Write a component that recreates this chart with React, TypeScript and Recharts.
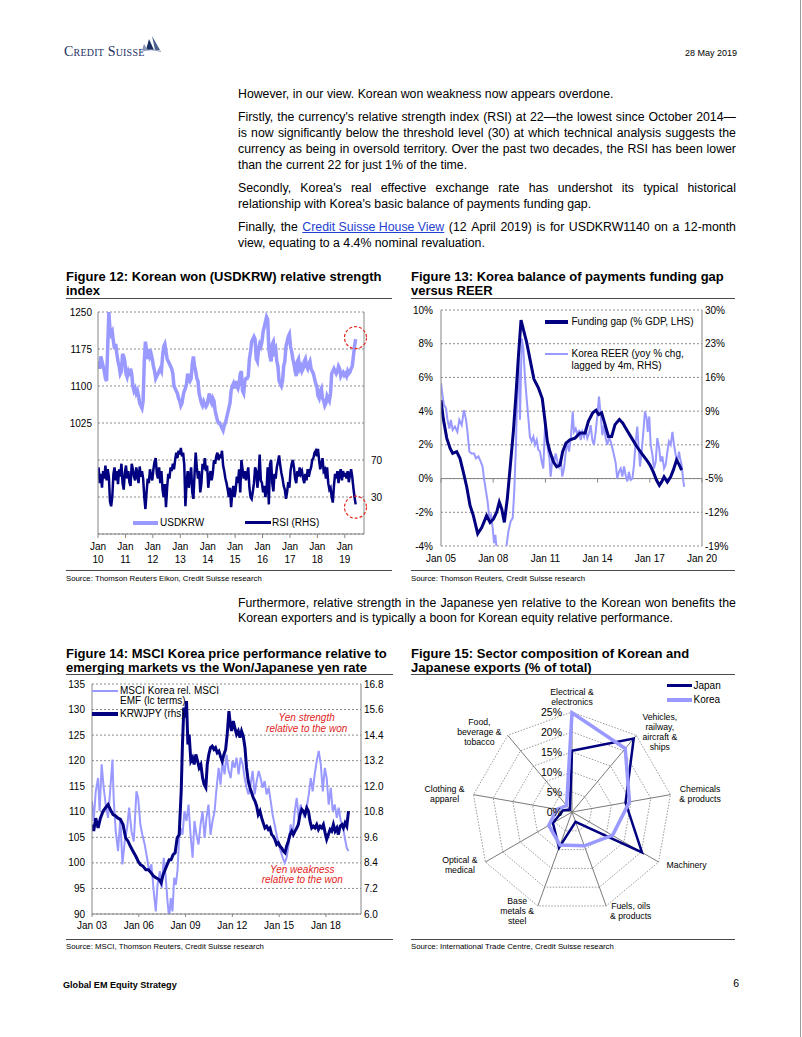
import React from "react";
import {
  LineChart, Line, XAxis, YAxis, CartesianGrid, ReferenceDot, ReferenceLine, Legend,
  RadarChart, Radar, PolarGrid, PolarAngleAxis, PolarRadiusAxis,
} from "recharts";

const FONT = '"Liberation Sans", Arial, Helvetica, sans-serif';
const LIGHT = "#9999ff";
const DARK = "#000080";
const AXIS = "#868686";
const GRID = "#8c8c8c";
const RED = "#e2231a";
const LINK = "#1f3fd0";

// Figure 12: USDKRW and its RSI, two readings a month, Jan 2010 - May 2019
const USDKRW = [
  1150, 1135, 1160, 1150, 1140, 1130, 1115, 1110, 1180, 1250, 1215, 1205, 1210, 1190, 1175, 1185, 1165, 1150, 1140, 1125, 1130, 1165, 1160, 1150,
  1125, 1118, 1128, 1120, 1135, 1125, 1100, 1090, 1095, 1085, 1090, 1080, 1065, 1060, 1055, 1070, 1150, 1190, 1170, 1155, 1175, 1160, 1165, 1155,
  1140, 1130, 1115, 1120, 1125, 1130, 1135, 1130, 1160, 1180, 1185, 1170, 1155, 1150, 1145, 1140, 1135, 1125, 1100, 1095, 1090, 1085, 1075, 1070,
  1060, 1065, 1080, 1090, 1095, 1105, 1125, 1115, 1110, 1115, 1145, 1160, 1140, 1130, 1115, 1110, 1085, 1075, 1065, 1060, 1068, 1062, 1058, 1062,
  1075, 1085, 1070, 1065, 1075, 1070, 1050, 1040, 1030, 1025, 1025, 1020, 1015, 1010, 1020, 1025, 1035, 1045, 1055, 1065, 1090, 1100, 1105, 1095,
  1110, 1100, 1095, 1105, 1125, 1130, 1090, 1085, 1110, 1115, 1115, 1120, 1155, 1170, 1190, 1195, 1200, 1195, 1155, 1150, 1175, 1185, 1180, 1190,
  1210, 1220, 1230, 1240, 1235, 1175, 1160, 1150, 1185, 1190, 1170, 1175, 1150, 1140, 1110, 1105, 1100, 1110, 1140, 1150, 1180, 1190, 1200, 1205,
  1180, 1170, 1155, 1145, 1130, 1120, 1150, 1155, 1135, 1140, 1130, 1135, 1150, 1155, 1140, 1135, 1145, 1150, 1135, 1130, 1125, 1115, 1105, 1100,
  1080, 1075, 1090, 1095, 1075, 1070, 1060, 1065, 1080, 1075, 1070, 1085, 1125, 1130, 1135, 1130, 1125, 1130, 1140, 1135, 1120, 1125, 1128, 1122,
  1125, 1120, 1130, 1125, 1128, 1135, 1140, 1160, 1180, 1195,
];
const RSI = [
  62, 45, 55, 40, 58, 50, 64, 48, 60, 52, 25, 20, 30, 55, 62, 48, 58, 44, 60, 52, 66, 45, 38, 56,
  64, 50, 58, 46, 42, 66, 60, 52, 48, 62, 54, 45, 63, 52, 58, 50, 30, 17, 35, 50, 45, 60, 52, 48,
  60, 68, 72, 55, 50, 62, 45, 58, 38, 30, 44, 19, 40, 55, 50, 62, 58, 66, 60, 70, 78, 72, 80, 76,
  83, 74, 78, 65, 20, 45, 58, 40, 52, 62, 35, 28, 55, 78, 62, 50, 58, 35, 45, 66, 60, 72, 58, 64,
  40, 52, 58, 48, 56, 70, 66, 74, 78, 70, 76, 72, 80, 64, 58, 50, 45, 38, 30, 40, 19, 35, 42, 30,
  38, 52, 45, 60, 35, 70, 60, 50, 58, 48, 55, 62, 40, 30, 28, 36, 45, 62, 58, 40, 52, 76, 48, 45,
  35, 42, 30, 38, 62, 22, 65, 70, 45, 36, 55, 50, 62, 68, 75, 64, 56, 50, 42, 38, 28, 35, 46, 40,
  58, 66, 70, 62, 50, 45, 58, 52, 62, 55, 58, 50, 45, 55, 48, 60, 52, 58, 62, 70, 72, 78, 80, 74,
  82, 70, 60, 66, 72, 58, 60, 50, 62, 45, 38, 40, 30, 24, 42, 55, 50, 58, 45, 56, 60, 48, 58, 52,
  56, 50, 58, 46, 54, 60, 52, 40, 30, 22,
];
const FIG12_YEARS = [2010, 2011, 2012, 2013, 2014, 2015, 2016, 2017, 2018, 2019];
const FIG12_LEFT_TICKS = [800, 875, 950, 1025, 1100, 1175, 1250];
const FIG12_RIGHT_TICKS = [-10, 30, 70, 110, 150, 190, 230];

// Figure 13: funding gap (% GDP) and REER (yoy %)
const GAP_T = [
  2005.0, 2005.13, 2005.33, 2005.52, 2005.67, 2005.9, 2006.09, 2006.28, 2006.48, 2006.67, 2006.86, 2007.11,
  2007.34, 2007.62, 2007.82, 2008.01, 2008.2, 2008.35, 2008.49, 2008.64, 2008.81, 2008.97, 2009.16, 2009.31,
  2009.44, 2009.6, 2009.77, 2009.92, 2010.11, 2010.34, 2010.59, 2010.82, 2010.98, 2011.11, 2011.26, 2011.46,
  2011.65, 2011.84, 2011.99, 2012.18, 2012.41, 2012.7, 2012.99, 2013.28, 2013.47, 2013.72, 2013.91, 2014.06,
  2014.23, 2014.43, 2014.62, 2014.81, 2015.0, 2015.25, 2015.44, 2015.67, 2015.96, 2016.25, 2016.53, 2016.82,
  2017.01, 2017.2, 2017.39, 2017.55, 2017.68, 2017.82, 2018.01, 2018.2, 2018.35, 2018.54, 2018.7, 2018.83,
];
const GAP_V = [
  4.65, 3.56, 2.4, 1.8, 1.5, 1.6, 1.2, 0.4, -0.5, -1.6, -2.2, -3.27,
  -2.9, -2.2, -2.6, -2.4, -2.0, -1.4, -1.8, -2.6, -1.2, 0.6, 2.8, 5.0,
  7.1, 9.4, 8.7, 8.1, 7.1, 5.9, 5.4, 4.75, 3.4, 2.2, 1.6, 1.0,
  0.7, 0.8, 1.6, 2.1, 2.3, 2.4, 2.7, 2.7, 3.4, 3.9, 4.05, 3.8,
  3.9, 3.2, 2.5, 2.5, 3.2, 3.5, 3.3, 2.9, 2.4, 1.9, 1.5, 1.1,
  0.8, 0.4, -0.1, -0.4, -0.2, 0.1, -0.2, 0.1, 0.5, 1.1, 0.8, 0.5,
];
const REER_T = [
  2005.0, 2005.08, 2005.17, 2005.29, 2005.36, 2005.48, 2005.57, 2005.67, 2005.8, 2005.94,
  2006.05, 2006.19, 2006.32, 2006.44, 2006.51, 2006.63, 2006.76, 2006.9, 2007.01, 2007.15,
  2007.28, 2007.39, 2007.47, 2007.59, 2007.68, 2007.78, 2007.87, 2007.97, 2008.05, 2008.12,
  2008.24, 2008.39, 2008.58, 2008.77, 2008.87, 2009.0, 2009.12, 2009.21, 2009.31, 2009.39,
  2009.46, 2009.54, 2009.64, 2009.73, 2009.83, 2009.92, 2010.02, 2010.11, 2010.21, 2010.31,
  2010.4, 2010.5, 2010.59, 2010.69, 2010.79, 2010.88, 2010.98, 2011.07, 2011.13, 2011.23,
  2011.3, 2011.42, 2011.49, 2011.59, 2011.69, 2011.78, 2011.88, 2011.97, 2012.07, 2012.16,
  2012.26, 2012.36, 2012.47, 2012.57, 2012.64, 2012.74, 2012.84, 2012.93, 2013.03, 2013.12,
  2013.22, 2013.31, 2013.41, 2013.51, 2013.6, 2013.7, 2013.79, 2013.89, 2013.98, 2014.08,
  2014.18, 2014.27, 2014.37, 2014.46, 2014.56, 2014.66, 2014.75, 2014.85, 2014.94, 2015.04,
  2015.13, 2015.23, 2015.33, 2015.42, 2015.52, 2015.61, 2015.71, 2015.8, 2015.9, 2016.0,
  2016.09, 2016.19, 2016.28, 2016.36, 2016.44, 2016.53, 2016.63, 2016.72, 2016.82, 2016.88,
  2016.97, 2017.05, 2017.15, 2017.24, 2017.34, 2017.43, 2017.53, 2017.62, 2017.72, 2017.82,
  2017.91, 2018.01, 2018.1, 2018.2, 2018.3, 2018.39, 2018.49, 2018.58, 2018.68, 2018.74,
  2018.83, 2018.93, 2018.98,
];
const REER_V = [
  14.8, 12.4, 10.3, 9.6, 7.5, 5.4, 7.2, 5.1, 5.8, 4.7,
  7.2, 6.1, 9.2, 7.2, 5.1, 0.6, 0.2, 0.2, -0.8, -0.4,
  -1.5, -2.5, -5.0, -7.7, -9.8, -13.3, -12.6, -15.3, -18.4, -16.7,
  -21, -21, -21, -18.8, -16, -13.9, -13.2, -7.7, 2.0, 14.4,
  20, 7.2, 24.1, 22, 15.8, 11.7, 7.5, 3.7, 2.7, 3.7,
  2, 3.0, 1, 0.6, -1.5, -2.9, 6.1, 4.7, 1.3, -0.8,
  -4.6, -0.4, -1.8, 0.2, -1.5, -2.5, -0.8, -4.6, -2.9, 0.2,
  2.7, 0.6, 3.7, 8.9, 4.7, 5.4, 4.0, 5.1, 3.0, 4.7,
  3.7, 5.4, 3.4, 4.4, 6.1, 3.0, 2.0, 4.7, 7.9, 12.0,
  8.2, 4.0, 6.1, 3.4, 2.0, 3.7, 2.7, 1.3, -0.1, -1.8,
  -5, -3.6, -2.9, -4.6, -2.5, -4.3, -5.6, -3.6, -5.3, -5,
  -2.2, 2.7, 5.8, 1.3, -2.5, 0.6, 4.7, 8.9, 7.5, 4.7,
  7.9, 2.0, -0.1, -2.9, -1.5, 3.4, 1.6, -1.5, -0.4, -2.9,
  -2.2, 0.6, 2.7, 2.0, 4.7, 2.0, -0.1, -1.5, 0.6, -0.8,
  -2.2, -5.6, -6.7,
];
const FIG13_YEARS = [2005, 2008, 2011, 2014, 2017, 2020];
const FIG13_LEFT_TICKS = [-4, -2, 0, 2, 4, 6, 8, 10];
const FIG13_RIGHT_TICKS = [-19, -12, -5, 2, 9, 16, 23, 30];

// Figure 14: MSCI Korea rel. EMF and KRWJPY
const MSCI_T = [
  2003.0, 2003.11, 2003.24, 2003.39, 2003.49, 2003.62, 2003.75, 2003.88, 2004.03, 2004.18,
  2004.31, 2004.39, 2004.52, 2004.67, 2004.82, 2004.95, 2005.1, 2005.25, 2005.38, 2005.53,
  2005.68, 2005.85, 2005.96, 2006.1, 2006.23, 2006.38, 2006.53, 2006.66, 2006.81, 2006.96,
  2007.09, 2007.2, 2007.35, 2007.47, 2007.6, 2007.73, 2007.84, 2007.95, 2008.05, 2008.16,
  2008.27, 2008.37, 2008.48, 2008.59, 2008.7, 2008.8, 2008.93, 2009.06, 2009.19, 2009.32,
  2009.45, 2009.57, 2009.7, 2009.83, 2009.96, 2010.09, 2010.22, 2010.34, 2010.47, 2010.6,
  2010.73, 2010.86, 2010.99, 2011.12, 2011.24, 2011.37, 2011.5, 2011.63, 2011.76, 2011.89,
  2012.01, 2012.14, 2012.27, 2012.4, 2012.53, 2012.66, 2012.79, 2012.91, 2013.04, 2013.17,
  2013.3, 2013.43, 2013.56, 2013.69, 2013.81, 2013.94, 2014.07, 2014.2, 2014.33, 2014.46,
  2014.58, 2014.71, 2014.84, 2014.97, 2015.1, 2015.23, 2015.36, 2015.48, 2015.61, 2015.74,
  2015.87, 2016.0, 2016.13, 2016.25, 2016.38, 2016.51, 2016.64, 2016.77, 2016.9, 2017.03,
  2017.15, 2017.28, 2017.41, 2017.54, 2017.67, 2017.8, 2017.93, 2018.05, 2018.18, 2018.31,
  2018.44, 2018.57, 2018.7, 2018.82, 2018.95, 2019.08, 2019.21, 2019.34, 2019.45,
];
const MSCI_V = [
  112.1, 108.2, 114.0, 116.6, 110.1, 119.3, 114.7, 111.4, 108.8, 114.7,
  120.2, 112.7, 106.2, 102.3, 108.8, 99.7, 104.2, 106.8, 110.8, 106.2,
  104.2, 114.0, 112.7, 107.5, 105.5, 103.6, 101.0, 98.4, 99.7, 94.4,
  90.5, 95.7, 98.4, 95.1, 101.0, 97.1, 92.5, 89.2, 93.1, 90.5,
  97.1, 95.7, 98.4, 104.9, 106.8, 105.5, 110.1, 108.2, 111.4, 105.5,
  101.0, 108.2, 105.5, 103.6, 107.5, 110.1, 104.9, 108.8, 111.4, 105.5,
  108.2, 110.1, 114.7, 118.6, 115.3, 119.9, 117.3, 121.2, 118.0, 116.6,
  119.9, 118.6, 120.6, 117.3, 120.6, 119.3, 116.6, 114.7, 113.4, 115.3,
  118.0, 113.4, 116.0, 118.0, 116.6, 114.7, 116.0, 113.4, 114.7, 112.1,
  109.5, 107.5, 105.5, 103.6, 102.3, 101.0, 100.0, 101.0, 103.6, 107.5,
  105.5, 110.1, 112.7, 108.8, 111.4, 110.1, 108.8, 110.8, 113.4, 116.6,
  114.0, 117.3, 119.9, 121.9, 119.3, 114.0, 118.6, 116.6, 111.4, 114.7,
  110.1, 111.4, 108.8, 110.8, 108.2, 107.5, 104.9, 102.9, 102.3,
];
const KRWJPY_T = [
  2003.0, 2003.11, 2003.24, 2003.39, 2003.54, 2003.71, 2003.88, 2004.03, 2004.18, 2004.35,
  2004.52, 2004.67, 2004.82, 2004.99, 2005.16, 2005.31, 2005.46, 2005.63, 2005.81, 2005.96,
  2006.1, 2006.28, 2006.45, 2006.62, 2006.79, 2006.96, 2007.13, 2007.3, 2007.43, 2007.56,
  2007.69, 2007.82, 2007.95, 2008.07, 2008.2, 2008.33, 2008.46, 2008.59, 2008.72, 2008.8,
  2008.89, 2008.97, 2009.06, 2009.15, 2009.23, 2009.34, 2009.45, 2009.55, 2009.66, 2009.77,
  2009.87, 2009.98, 2010.09, 2010.19, 2010.3, 2010.39, 2010.49, 2010.6, 2010.71, 2010.82,
  2010.92, 2011.03, 2011.14, 2011.24, 2011.35, 2011.46, 2011.57, 2011.67, 2011.78, 2011.87,
  2011.95, 2012.06, 2012.16, 2012.27, 2012.38, 2012.49, 2012.59, 2012.7, 2012.81, 2012.91,
  2013.02, 2013.13, 2013.24, 2013.34, 2013.45, 2013.56, 2013.66, 2013.77, 2013.88, 2013.98,
  2014.09, 2014.2, 2014.31, 2014.41, 2014.52, 2014.63, 2014.73, 2014.84, 2014.95, 2015.06,
  2015.16, 2015.27, 2015.38, 2015.48, 2015.59, 2015.7, 2015.81, 2015.91, 2016.02, 2016.13,
  2016.23, 2016.34, 2016.45, 2016.55, 2016.66, 2016.77, 2016.88, 2016.98, 2017.09, 2017.2,
  2017.3, 2017.41, 2017.52, 2017.63, 2017.73, 2017.84, 2017.95, 2018.05, 2018.16, 2018.27,
  2018.37, 2018.48, 2018.59, 2018.7, 2018.8, 2018.91, 2019.02, 2019.12, 2019.23, 2019.34,
  2019.45,
];
const KRWJPY_V = [
  10.2, 9.9, 10.5, 10.04, 10.5, 10.83, 11.0, 11.14, 10.9, 10.67,
  10.6, 10.5, 10.44, 10.2, 9.57, 9.42, 9.18, 8.95, 8.71, 8.48,
  8.32, 8.24, 8.08, 8.08, 7.93, 7.77, 7.69, 7.62, 7.46, 7.85,
  8.08, 8.32, 8.55, 8.55, 8.79, 8.87, 9.57, 9.73, 11.77, 13.96,
  15.69, 15.22, 16.0, 13.96, 14.43, 13.18, 13.34, 13.02, 13.49, 13.18,
  12.87, 13.02, 12.4, 12.08, 11.93, 13.02, 13.49, 13.81, 13.88, 13.73,
  13.81, 13.57, 13.65, 13.41, 13.18, 13.49, 13.73, 14.43, 15.53, 14.9,
  14.59, 15.06, 14.75, 14.43, 14.59, 14.28, 14.59, 14.35, 13.81, 12.87,
  12.24, 11.93, 11.69, 11.46, 11.3, 11.06, 10.67, 10.83, 10.51, 10.28,
  10.04, 10.12, 9.97, 10.04, 9.73, 9.65, 9.5, 9.26, 9.34, 9.18,
  9.1, 8.95, 8.87, 9.18, 9.42, 9.73, 9.89, 9.73, 9.89, 10.04,
  10.2, 10.67, 10.91, 10.83, 10.67, 10.98, 10.83, 10.36, 10.04, 10.12,
  10.04, 10.2, 9.97, 10.12, 10.04, 10.2, 9.81, 9.5, 9.73, 9.97,
  9.89, 10.2, 9.89, 10.04, 9.73, 10.12, 10.2, 10.04, 10.28, 10.12,
  10.83,
];
const FIG14_YEARS = [2003, 2006, 2009, 2012, 2015, 2018];
const FIG14_LEFT_TICKS = [90, 95, 100, 105, 110, 115, 120, 125, 130, 135];
const FIG14_RIGHT_TICKS = [6.0, 7.2, 8.4, 9.6, 10.8, 12.0, 13.2, 14.4, 15.6, 16.8];

// Figure 15: export shares (% of total)
const SECTORS = [
  "Electrical &\nelectronics",
  "Vehicles,\nrailway,\naircraft &\nships",
  "Chemicals\n& products",
  "Machinery",
  "Fuels, oils\n& products",
  "Base\nmetals &\nsteel",
  "Optical &\nmedical",
  "Clothing &\napparel",
  "Food,\nbeverage &\ntobacco",
];
const JAPAN = [15.3, 24.0, 13.6, 20.2, 2.6, 9.5, 5.5, 2.3, 0.8];
const KOREA = [24.8, 20.7, 14.6, 11.7, 9.0, 8.8, 6.7, 3.8, 2.1];

const fig12Data = USDKRW.map((v, i) => ({ t: 2010 + (i + 0.5) / 24, usd: v, rsi: RSI[i] }));
const zip = (ts: number[], vs: number[]) => ts.map((t, i) => ({ t, v: vs[i] }));
const gapData = zip(GAP_T, GAP_V);
const reerData = zip(REER_T, REER_V);
const msciData = zip(MSCI_T, MSCI_V);
const krwjpyData = zip(KRWJPY_T, KRWJPY_V);
const radarData = SECTORS.map((s, i) => ({ sector: s, japan: JAPAN[i], korea: KOREA[i] }));

const tickStyle = { fontSize: 10, fill: "#000", fontFamily: FONT };

// ---------- helpers ----------
function T({ x, y, size, children, bold, italic, color = "#000", align = "left" }: any) {
  const style: React.CSSProperties = {
    position: "absolute",
    top: y - 0.9465 * size,
    fontSize: size,
    lineHeight: `${1.2 * size}px`,
    fontFamily: FONT,
    fontWeight: bold ? 700 : 400,
    fontStyle: italic ? "italic" : "normal",
    color,
    whiteSpace: "nowrap",
  };
  if (align === "left") style.left = x;
  else if (align === "right") style.right = 802 - x;
  else {
    style.left = x;
    style.transform = "translateX(-50%)";
  }
  return <div style={style}>{children}</div>;
}

function Rule({ x, y, w }: { x: number; y: number; w: number }) {
  return <div style={{ position: "absolute", left: x, top: y, width: w, height: 1, background: "#4a4a4a" }} />;
}

const BODY_SIZE = 12.3;
const BODY_LH = 15.8;
const BODY_PARAS = [
  { y: 98.8, lines: ["However, in our view. Korean won weakness now appears overdone."] },
  {
    y: 122.1,
    lines: [
      "Firstly, the currency's relative strength index (RSI) at 22—the lowest since October 2014—",
      "is now significantly below the threshold level (30) at which technical analysis suggests the",
      "currency as being in oversold territory. Over the past two decades, the RSI has been lower",
      "than the current 22 for just 1% of the time.",
    ],
  },
  {
    y: 192.8,
    lines: [
      "Secondly, Korea's real effective exchange rate has undershot its typical historical",
      "relationship with Korea's basic balance of payments funding gap.",
    ],
  },
  {
    y: 232.1,
    lines: [
      "Finally, the [Credit Suisse House View] (12 April 2019) is for USDKRW1140 on a 12-month",
      "view, equating to a 4.4% nominal revaluation.",
    ],
  },
  {
    y: 607.3,
    lines: [
      "Furthermore, relative strength in the Japanese yen relative to the Korean won benefits the",
      "Korean exporters and is typically a boon for Korean equity relative performance.",
    ],
  },
];

function BodyLine({ text, y, justify }: { text: string; y: number; justify: boolean }) {
  const tokens = text.match(/\[[^\]]+\]|\S+/g) || [];
  const render = (tok: string, i: number) =>
    tok.startsWith("[") ? (
      <span key={i} style={{ color: LINK, textDecoration: "underline" }}>{tok.slice(1, -1)}</span>
    ) : (
      <span key={i}>{tok}</span>
    );
  return (
    <div
      style={{
        position: "absolute", left: 238, width: 498, top: y - 0.9465 * BODY_SIZE,
        fontSize: BODY_SIZE, lineHeight: `${1.2 * BODY_SIZE}px`, fontFamily: FONT, color: "#000",
        whiteSpace: "nowrap", display: justify ? "flex" : "block", justifyContent: "space-between",
      }}
    >
      {justify
        ? tokens.map(render)
        : tokens.map((t, i) => <React.Fragment key={i}>{i > 0 ? " " : ""}{render(t, i)}</React.Fragment>)}
    </div>
  );
}

type LegendRow = { color: string; thick: number; x: number; w: number; y: number; textX: number; lines: string[]; lh?: number };
function legendContent(rows: LegendRow[]) {
  return () => (
    <div style={{ position: "relative", width: 0, height: 0 }}>
      {rows.map((r, i) => (
        <React.Fragment key={i}>
          <div style={{ position: "absolute", left: r.x, top: r.y - r.thick / 2, width: r.w, height: r.thick, background: r.color }} />
          <div
            style={{
              position: "absolute", left: r.textX, top: r.y - (r.lh ?? 11.5) / 2, fontSize: 10,
              lineHeight: `${r.lh ?? 11.5}px`, fontFamily: FONT, color: "#000", whiteSpace: "nowrap", textAlign: "left",
            }}
          >
            {r.lines.map((l, j) => <div key={j}>{l}</div>)}
          </div>
        </React.Fragment>
      ))}
    </div>
  );
}
const legendWrap = { left: 0, top: 0, width: 0, height: 0 };

function JanTick({ x, y, payload }: any) {
  return (
    <text x={x} y={y} textAnchor="middle" fontSize={10} fontFamily={FONT} fill="#000">
      <tspan x={x} y={y + 11.5}>Jan</tspan>
      <tspan x={x} y={y + 24.5}>{String(payload.value).slice(2)}</tspan>
    </text>
  );
}

const FIG13_PLOT_H = 236;
function Fig13Tick({ x, y, payload }: any) {
  const zeroY = y - (FIG13_PLOT_H * (0 - -4)) / (10 - -4);
  return (
    <g>
      <line x1={x} x2={x} y1={zeroY} y2={zeroY + 4} stroke={AXIS} />
      <text x={x} y={y + 16} textAnchor="middle" fontSize={10} fontFamily={FONT} fill="#000">
        {`Jan ${String(payload.value).slice(2)}`}
      </text>
    </g>
  );
}

let measureCtx: CanvasRenderingContext2D | null = null;
function textWidth(s: string, size: number) {
  if (!measureCtx) measureCtx = document.createElement("canvas").getContext("2d");
  if (!measureCtx) return s.length * size * 0.5;
  measureCtx.font = `${size}px ${FONT}`;
  return measureCtx.measureText(s).width;
}

const SECTOR_FONT = 8.7;
function SectorTick({ x, y, payload }: any) {
  const lines = String(payload.value).split("\n");
  const ang = (payload.coordinate * Math.PI) / 180;
  const c = Math.cos(ang);
  const s = Math.sin(ang);
  const w = Math.max(...lines.map((l) => textWidth(l, SECTOR_FONT)));
  const lh = 10;
  let cx = x;
  let cy = y;
  if (Math.abs(c) < 0.05) cy = y - 7;
  else {
    cx = x + Math.sign(c) * (w / 2 + 1);
    cy = y + s * 3;
  }
  const first = cy - ((lines.length - 1) * lh) / 2 + 0.36 * SECTOR_FONT;
  return (
    <text textAnchor="middle" fontSize={SECTOR_FONT} fontFamily={FONT} fill="#000">
      {lines.map((l, i) => (
        <tspan key={i} x={cx} y={first + i * lh}>{l}</tspan>
      ))}
    </text>
  );
}

function PctTick({ x, y, payload }: any) {
  return (
    <text x={x - 10} y={y + 3.6} textAnchor="end" fontSize={10.5} fontFamily={FONT} fill="#000">
      {`${payload.value}%`}
    </text>
  );
}

function Logo() {
  return (
    <>
      <div
        style={{
          position: "absolute", left: 64, top: 57 - 0.9465 * 14, fontSize: 14, lineHeight: "16.8px",
          fontFamily: '"Liberation Serif", "Times New Roman", serif', fontVariant: "small-caps",
          color: "#1b2f63", letterSpacing: 0.2, whiteSpace: "nowrap",
        }}
      >
        Credit Suisse
      </div>
      <svg style={{ position: "absolute", left: 141, top: 35 }} width={20} height={19}>
        <polygon points="8,4 13,15 5,15" fill="#1b2f63" />
        <polygon points="11,1 19,15 14,15" fill="#4a5f8f" />
        <polygon points="3,9 7,15 1,15" fill="#8a98bb" />
        <path d="M0 16.5 Q10 13 20 16.5" stroke="#8a96b4" strokeWidth={1.1} fill="none" />
      </svg>
    </>
  );
}

// ---------- charts ----------
function Figure12() {
  return (
    <div style={{ position: "absolute", left: 60, top: 300 }}>
      <LineChart width={340} height={270} data={fig12Data} margin={{ top: 12, right: 0, bottom: 6, left: 0 }}>
        <CartesianGrid yAxisId="l" vertical={false} stroke={GRID} strokeDasharray="2 2" />
        <XAxis
          dataKey="t" type="number" domain={[2010, 2019.7]} ticks={FIG12_YEARS} interval={0} allowDataOverflow
          tick={(p: any) => <JanTick {...p} />} tickSize={4} tickMargin={0} height={30}
          axisLine={{ stroke: AXIS }} tickLine={{ stroke: AXIS }}
        />
        <YAxis
          yAxisId="l" domain={[800, 1250]} ticks={FIG12_LEFT_TICKS} interval={0} allowDataOverflow
          tickFormatter={(v: number) => (v >= 1025 ? String(v) : "")} width={38} tickSize={0} tickMargin={6}
          tick={tickStyle} axisLine={{ stroke: AXIS }}
        />
        <YAxis
          yAxisId="r" orientation="right" domain={[-10, 230]} ticks={FIG12_RIGHT_TICKS} interval={0} allowDataOverflow
          tickFormatter={(v: number) => (v === 30 || v === 70 ? String(v) : "")} width={36} tickSize={0} tickMargin={7}
          tick={tickStyle} axisLine={{ stroke: AXIS }}
        />
        <Line yAxisId="l" dataKey="usd" stroke={LIGHT} strokeWidth={3.5} dot={false} activeDot={false} isAnimationActive={false} />
        <Line yAxisId="r" dataKey="rsi" stroke={DARK} strokeWidth={2.5} dot={false} activeDot={false} isAnimationActive={false} />
        <ReferenceDot yAxisId="l" x={2019.39} y={1198} r={11} fill="none" stroke={RED} strokeWidth={1.2} strokeDasharray="3 2" />
        <ReferenceDot yAxisId="r" x={2019.39} y={19} r={11} fill="none" stroke={RED} strokeWidth={1.2} strokeDasharray="3 2" />
        <Legend
          layout="horizontal" verticalAlign="middle" align="left" wrapperStyle={legendWrap}
          content={legendContent([
            { color: LIGHT, thick: 4, x: 73, w: 25, y: 222.7, textX: 100, lines: ["USDKRW"] },
            { color: DARK, thick: 2.5, x: 185, w: 26, y: 222.7, textX: 212, lines: ["RSI (RHS)"] },
          ])}
        />
      </LineChart>
    </div>
  );
}

function Figure13() {
  return (
    <div style={{ position: "absolute", left: 400, top: 300 }}>
      <LineChart width={340} height={270} margin={{ top: 10, right: 0, bottom: 0, left: 0 }}>
        <CartesianGrid yAxisId="l" vertical={false} stroke={GRID} strokeDasharray="2 2" />
        <XAxis
          dataKey="t" type="number" domain={[2005, 2020]} ticks={FIG13_YEARS} interval={0} allowDataOverflow
          tick={(p: any) => <Fig13Tick {...p} />} tickSize={0} tickMargin={0} height={24} axisLine={false} tickLine={false}
        />
        <YAxis
          yAxisId="l" domain={[-4, 10]} ticks={FIG13_LEFT_TICKS} interval={0} allowDataOverflow
          tickFormatter={(v: number) => `${v}%`} width={41} tickSize={0} tickMargin={8} tick={tickStyle} axisLine={{ stroke: AXIS }}
        />
        <YAxis
          yAxisId="r" orientation="right" domain={[-19, 30]} ticks={FIG13_RIGHT_TICKS} interval={0} allowDataOverflow
          tickFormatter={(v: number) => `${v}%`} width={38} tickSize={0} tickMargin={3} tick={tickStyle} axisLine={{ stroke: AXIS }}
        />
        <ReferenceLine yAxisId="l" y={0} stroke={AXIS} />
        <Line yAxisId="r" data={reerData} dataKey="v" stroke={LIGHT} strokeWidth={2} dot={false} activeDot={false} isAnimationActive={false} />
        <Line yAxisId="l" data={gapData} dataKey="v" stroke={DARK} strokeWidth={3} dot={false} activeDot={false} isAnimationActive={false} />
        <Legend
          layout="horizontal" verticalAlign="middle" align="left" wrapperStyle={legendWrap}
          content={legendContent([
            { color: DARK, thick: 3.5, x: 145, w: 23, y: 22, textX: 171.5, lines: ["Funding gap (% GDP, LHS)"] },
            { color: LIGHT, thick: 2, x: 145, w: 23, y: 54, textX: 171.5, lines: ["Korea REER (yoy % chg,", "lagged by 4m, RHS)"] },
          ])}
        />
      </LineChart>
    </div>
  );
}

function Figure14() {
  return (
    <div style={{ position: "absolute", left: 60, top: 674 }}>
      <LineChart width={340} height={262} margin={{ top: 10, right: 0, bottom: 0, left: 0 }}>
        <CartesianGrid yAxisId="l" vertical={false} stroke={GRID} strokeDasharray="2 2" />
        <XAxis
          dataKey="t" type="number" domain={[2003, 2020.25]} ticks={FIG14_YEARS} interval={0} allowDataOverflow
          tickFormatter={(v: number) => `Jan ${String(v).slice(2)}`} tick={tickStyle} tickSize={3} tickMargin={5} height={22}
          axisLine={{ stroke: AXIS }} tickLine={{ stroke: AXIS }}
        />
        <YAxis
          yAxisId="l" domain={[90, 135]} ticks={FIG14_LEFT_TICKS} interval={0} allowDataOverflow
          width={32} tickSize={0} tickMargin={7} tick={tickStyle} axisLine={{ stroke: AXIS }}
        />
        <YAxis
          yAxisId="r" orientation="right" domain={[6, 16.8]} ticks={FIG14_RIGHT_TICKS} interval={0} allowDataOverflow
          tickFormatter={(v: number) => v.toFixed(1)} width={39} tickSize={0} tickMargin={3} tick={tickStyle} axisLine={{ stroke: AXIS }}
        />
        <Line yAxisId="l" data={msciData} dataKey="v" stroke={LIGHT} strokeWidth={2} dot={false} activeDot={false} isAnimationActive={false} />
        <Line yAxisId="r" data={krwjpyData} dataKey="v" stroke={DARK} strokeWidth={3} dot={false} activeDot={false} isAnimationActive={false} />
        <Legend
          layout="horizontal" verticalAlign="middle" align="left" wrapperStyle={legendWrap}
          content={legendContent([
            { color: LIGHT, thick: 2, x: 32, w: 26, y: 17, textX: 60, lines: ["MSCI Korea rel. MSCI", "EMF (lc terms)"], lh: 10.8 },
            { color: DARK, thick: 3.5, x: 32, w: 26, y: 40, textX: 60, lines: ["KRWJPY (rhs)"], lh: 10.8 },
          ])}
        />
      </LineChart>
    </div>
  );
}

function Figure15() {
  return (
    <div style={{ position: "absolute", left: 402, top: 682 }}>
      <RadarChart width={340} height={260} cx={170} cy={130} outerRadius={100} data={radarData} margin={{ top: 0, right: 0, bottom: 0, left: 0 }}>
        <PolarGrid gridType="polygon" radialLines={false} stroke="#9a9a9a" strokeDasharray="1.5 1.5" />
        <PolarGrid gridType="polygon" polarRadius={[]} stroke="#7a7a7a" />
        <PolarAngleAxis dataKey="sector" tick={(p: any) => <SectorTick {...p} />} tickLine={false} axisLine={false} />
        <PolarRadiusAxis angle={90} type="number" domain={[0, 25]} tickCount={6} axisLine={false} tick={(p: any) => <PctTick {...p} />} />
        <Radar dataKey="japan" stroke={DARK} strokeWidth={2.5} fill="none" fillOpacity={0} dot={false} isAnimationActive={false} />
        <Radar dataKey="korea" stroke={LIGHT} strokeWidth={3.5} fill="none" fillOpacity={0} dot={false} isAnimationActive={false} />
        <Legend
          layout="horizontal" verticalAlign="middle" align="left" wrapperStyle={legendWrap}
          content={legendContent([
            { color: DARK, thick: 3, x: 265, w: 25, y: 3.7, textX: 291.5, lines: ["Japan"], lh: 12 },
            { color: LIGHT, thick: 4, x: 265, w: 25, y: 18.3, textX: 291.5, lines: ["Korea"], lh: 12 },
          ])}
        />
      </RadarChart>
    </div>
  );
}

export default function App() {
  return (
    <div style={{ position: "absolute", left: 0, top: 0, width: 802, height: 1037, background: "#fff", overflow: "hidden", fontFamily: FONT }}>
      <Logo />
      <T x={737} y={56.3} size={9} align="right">28 May 2019</T>

      {BODY_PARAS.map((p, pi) =>
        p.lines.map((l, li) => (
          <BodyLine key={`${pi}-${li}`} text={l} y={p.y + li * BODY_LH} justify={li < p.lines.length - 1} />
        ))
      )}

      <T x={66} y={281.2} size={13} bold>Figure 12: Korean won (USDKRW) relative strength</T>
      <T x={66} y={295.7} size={13} bold>index</T>
      <Rule x={66} y={298} w={326} />
      <Figure12 />
      <Rule x={66} y={570} w={326} />
      <T x={66} y={581} size={7.8}>Source: Thomson Reuters Eikon, Credit Suisse research</T>

      <T x={411} y={281.2} size={13} bold>Figure 13: Korea balance of payments funding gap</T>
      <T x={411} y={295.7} size={13} bold>versus REER</T>
      <Rule x={411} y={298} w={324} />
      <Figure13 />
      <Rule x={411} y={570} w={324} />
      <T x={411} y={581} size={7.8}>Source: Thomson Reuters, Credit Suisse research</T>

      <T x={66} y={658} size={13} bold>Figure 14: MSCI Korea price performance relative to</T>
      <T x={66} y={672.3} size={13} bold>emerging markets vs the Won/Japanese yen rate</T>
      <Rule x={66} y={674} w={327} />
      <Figure14 />
      <T x={306.7} y={721.3} size={10} italic color={RED} align="center">Yen strength</T>
      <T x={306.7} y={732.9} size={10} italic color={RED} align="center">relative to the won</T>
      <T x={302.3} y={873} size={10} italic color={RED} align="center">Yen weakness</T>
      <T x={302.3} y={883.6} size={10} italic color={RED} align="center">relative to the won</T>
      <Rule x={66} y={938.5} w={327} />
      <T x={66} y={949.7} size={7.8}>Source: MSCI, Thomson Reuters, Credit Suisse research</T>

      <T x={411} y={658} size={13} bold>Figure 15: Sector composition of Korean and</T>
      <T x={411} y={672.3} size={13} bold>Japanese exports (% of total)</T>
      <Rule x={411} y={674} w={324} />
      <Figure15 />
      <Rule x={411} y={938.5} w={324} />
      <T x={411} y={949.7} size={7.8}>Source: International Trade Centre, Credit Suisse research</T>

      <T x={63} y={988.3} size={9.1} bold>Global EM Equity Strategy</T>
      <T x={739} y={987} size={10.5} align="right">6</T>

      <div style={{ position: "absolute", left: 800, top: 0, width: 1, height: 1037, background: "#9a9a9a" }} />
    </div>
  );
}
